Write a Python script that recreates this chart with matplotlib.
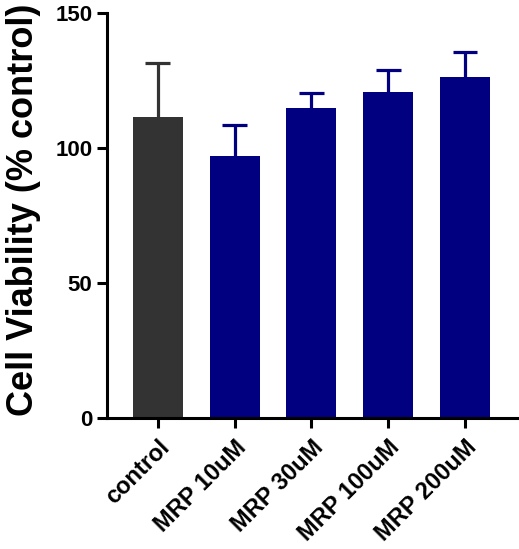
import numpy as np
import matplotlib.pyplot as plt

groups = ["control", "MRP 10uM", "MRP 30uM", "MRP 100uM", "MRP 200uM"]
means = [111.5, 97.0, 114.8, 120.6, 126.2]
errs = [20.0, 11.4, 5.6, 8.3, 9.3]
colors = ["#333333", "#000080", "#000080", "#000080", "#000080"]

plt.rcParams['font.family'] = ['Liberation Sans', 'DejaVu Sans']
plt.rcParams['font.weight'] = 'bold'

fig = plt.figure(figsize=(5.19, 5.49), dpi=100)
ax = fig.add_axes([0.206, 0.239, 0.794, 0.737])

x = np.arange(len(groups))
ax.bar(x, means, width=0.65, color=colors, zorder=2)
# upper error bars only
cap = 0.16
for xi, m, e, c in zip(x, means, errs, colors):
    ax.vlines(xi, m, m + e, color=c, linewidth=2.3, zorder=1)
    ax.hlines(m + e, xi - cap, xi + cap, color=c, linewidth=2.3, zorder=1)

ax.set_xlim(-0.66, 4.70)
ax.set_ylim(0, 150)
ax.set_yticks([0, 50, 100, 150])
ax.set_xticks(x)
ax.set_xticklabels(groups, rotation=45, ha='right', rotation_mode='anchor',
                   fontsize=17, fontweight='bold')
ax.tick_params(axis='y', labelsize=16, width=2.2, length=7)
ax.tick_params(axis='x', width=2.2, length=7, pad=6)
ax.set_ylabel("Cell Viability (% control)", fontsize=26, fontweight='bold')
ax.yaxis.set_label_coords(-0.16, 0.515)

for s in ['top', 'right']:
    ax.spines[s].set_visible(False)
for s in ['left', 'bottom']:
    ax.spines[s].set_linewidth(2.2)

fig.savefig("out.png", dpi=100)
